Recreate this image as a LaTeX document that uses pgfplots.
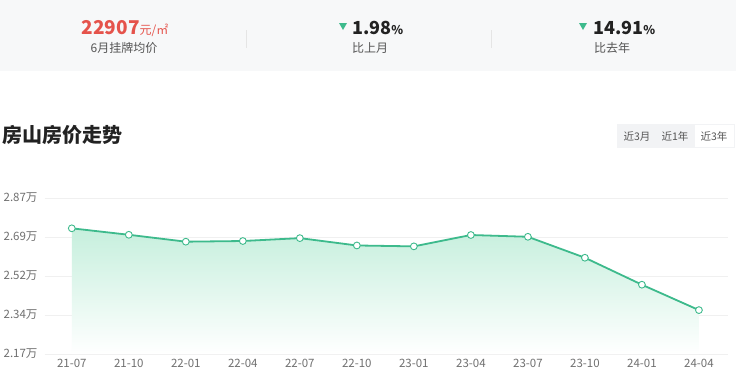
\documentclass[border=0pt]{standalone}
\usepackage{fontspec}
\setmainfont{Noto Sans CJK SC}
\usepackage{pgfplots}
\pgfplotsset{compat=1.18}
\definecolor{lineg}{HTML}{3DBA8C}
\definecolor{fillg}{HTML}{C6EFDD}
\definecolor{redn}{HTML}{E5534B}
\definecolor{panel}{HTML}{F7F8F9}
\definecolor{gridc}{HTML}{F0F0F0}
\definecolor{tickc}{HTML}{707070}
\definecolor{darkt}{HTML}{222222}
\definecolor{grayt}{HTML}{555555}
\definecolor{btn}{HTML}{F2F3F5}
\begin{document}
\begin{tikzpicture}
\useasboundingbox (0,0) rectangle (740pt,-391pt);
\fill[white] (0,0) rectangle (740pt,-391pt);
% stats panel
\fill[panel] (0,0) rectangle (736pt,-71pt);
\draw[gray!20, line width=0.8pt] (246pt,-30pt) -- (246pt,-48pt);
\draw[gray!20, line width=0.8pt] (491pt,-30pt) -- (491pt,-48pt);
\node[anchor=base, text=redn, inner sep=0pt] at (125pt,-34pt) {{\fontsize{19}{24}\selectfont\bfseries 22907}{\fontsize{12}{14}\selectfont 元/㎡}};
\node[anchor=base, text=grayt, inner sep=0pt, font=\fontsize{12}{14}\selectfont] at (124pt,-52pt) {6月挂牌均价};
\fill[lineg] (339pt,-23pt) -- (347pt,-23pt) -- (343pt,-30pt) -- cycle;
\node[anchor=base west, text=darkt, inner sep=0pt] at (352pt,-34pt) {{\fontsize{18}{22}\selectfont\bfseries 1.98}{\fontsize{12}{14}\selectfont\bfseries\%}};
\node[anchor=base, text=grayt, inner sep=0pt, font=\fontsize{12}{14}\selectfont] at (370pt,-52pt) {比上月};
\fill[lineg] (579pt,-23pt) -- (587pt,-23pt) -- (583pt,-30pt) -- cycle;
\node[anchor=base west, text=darkt, inner sep=0pt] at (593pt,-34pt) {{\fontsize{18}{22}\selectfont\bfseries 14.91}{\fontsize{12}{14}\selectfont\bfseries\%}};
\node[anchor=base, text=grayt, inner sep=0pt, font=\fontsize{12}{14}\selectfont] at (612pt,-52pt) {比去年};
% title
\node[anchor=base west, text=darkt, inner sep=0pt, font=\fontsize{20}{24}\selectfont\bfseries] at (2pt,-142pt) {房山房价走势};
% buttons
\fill[btn] (617pt,-124pt) rectangle (735pt,-148pt);
\fill[white] (695pt,-125pt) rectangle (734pt,-147pt);
\node[anchor=base, text=grayt, inner sep=0pt, font=\fontsize{10.5}{12}\selectfont] at (637pt,-140pt) {近3月};
\node[anchor=base, text=grayt, inner sep=0pt, font=\fontsize{10.5}{12}\selectfont] at (675pt,-140pt) {近1年};
\node[anchor=base, text=grayt, inner sep=0pt, font=\fontsize{10.5}{12}\selectfont] at (714pt,-140pt) {近3年};
\begin{axis}[
  at={(45pt,-354pt)}, anchor=south west,
  width=683pt, height=156pt, scale only axis,
  xmin=-0.47, xmax=11.51, ymin=2.17, ymax=2.87,
  axis line style={draw=none}, tick style={draw=none},
  xtick={0,1,2,3,4,5,6,7,8,9,10,11},
  xticklabels={21-07,21-10,22-01,22-04,22-07,22-10,23-01,23-04,23-07,23-10,24-01,24-04},
  ytick={2.17,2.345,2.52,2.695,2.87},
  yticklabels={2.17万,2.34万,2.52万,2.69万,2.87万},
  ymajorgrids, grid style={gridc, line width=0.7pt},
  ticklabel style={text=tickc, font=\fontsize{11.5}{13}\selectfont},
  xticklabel style={yshift=-2pt},
  yticklabel style={xshift=-4pt},
  clip=false,
]
\addplot[draw=none, shade, top color=fillg, bottom color=white, forget plot]
 coordinates {(0,2.734) (1,2.705) (2,2.674) (3,2.677) (4,2.690) (5,2.657) (6,2.653) (7,2.704) (8,2.696) (9,2.602) (10,2.481) (11,2.367) (11,2.17) (0,2.17)} -- cycle;
\addplot[lineg, line width=1.8pt, mark=*, mark size=3.4pt, mark options={fill=white, draw=lineg, line width=0.9pt}]
 coordinates {(0,2.734) (1,2.705) (2,2.674) (3,2.677) (4,2.690) (5,2.657) (6,2.653) (7,2.704) (8,2.696) (9,2.602) (10,2.481) (11,2.367)};
\end{axis}
\end{tikzpicture}
\end{document}
